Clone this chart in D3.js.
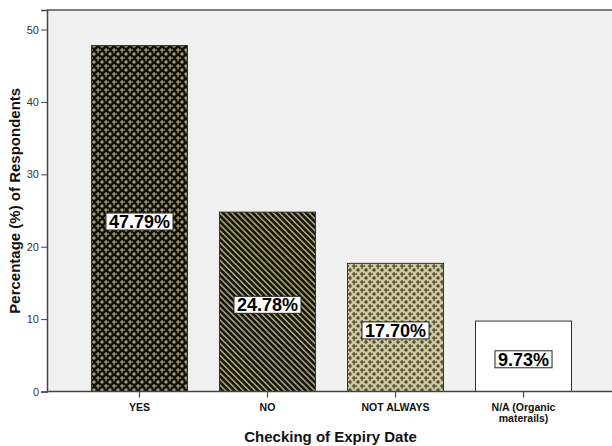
<!DOCTYPE html>
<html>
<head>
<meta charset="utf-8">
<script src="https://cdn.jsdelivr.net/npm/d3@7"></script>
<style>
  html, body { margin: 0; padding: 0; background: #fff; }
  svg { display: block; font-family: "Liberation Sans", Arial, sans-serif; }
</style>
</head>
<body>
<svg id="chart" width="612" height="446"></svg>
<script>
// Survey answers to "Checking of Expiry Date"
const categories = ["YES", "NO", "NOT ALWAYS", "N/A (Organic materails)"];
const tickLines = [["YES"], ["NO"], ["NOT ALWAYS"], ["N/A (Organic", "materails)"]];
const percentages = [47.79, 24.78, 17.70, 9.73];
const fillIds = ["pat-dark-cross", "pat-diag", "pat-light-cross", "plain-white"];
const yTickValues = [0, 10, 20, 30, 40, 50];

const svg = d3.select("#chart");
const W = 612, H = 446;
const plot = { left: 47, top: 10, bottom: 391.5, right: 616 };

const x = d3.scaleBand()
  .domain(categories)
  .range([plot.left, plot.right])
  .paddingInner(0.25)
  .paddingOuter(0.3475);

const y = d3.scaleLinear()
  .domain([0, 52.7])
  .range([plot.bottom, plot.top]);

// ---- fill patterns ----
const defs = svg.append("defs");
const khaki = "#b0aa7e", khakiLight = "#dcd8ac", dark = "#15140f";

function crossPattern(id, bg, fg, hi) {
  const p = defs.append("pattern").attr("id", id)
    .attr("patternUnits", "userSpaceOnUse").attr("width", 8).attr("height", 8);
  p.append("rect").attr("width", 8).attr("height", 8).attr("fill", bg);
  [[2, 2], [6, 6]].forEach(([cx, cy]) => {
    p.append("rect").attr("x", cx - 2).attr("y", cy - 0.5).attr("width", 5).attr("height", 1).attr("fill", fg);
    p.append("rect").attr("x", cx - 0.5).attr("y", cy - 2).attr("width", 1).attr("height", 5).attr("fill", fg);
    p.append("rect").attr("x", cx - 0.5).attr("y", cy - 0.5).attr("width", 1).attr("height", 1).attr("fill", hi);
  });
}
crossPattern("pat-dark-cross", dark, khaki, khakiLight);
crossPattern("pat-light-cross", "#cbc799", "#2a281c", "#5a5640");

const diag = defs.append("pattern").attr("id", "pat-diag")
  .attr("patternUnits", "userSpaceOnUse").attr("width", 4.2).attr("height", 8)
  .attr("patternTransform", "rotate(-45)");
diag.append("rect").attr("width", 4.2).attr("height", 8).attr("fill", dark);
diag.append("rect").attr("x", 0).attr("width", 1.6).attr("height", 8).attr("fill", "#a8a273");

function fillFor(i) {
  return fillIds[i] === "plain-white" ? "#ffffff" : `url(#${fillIds[i]})`;
}

// ---- plot background and frame ----
svg.append("rect")
  .attr("x", plot.left).attr("y", plot.top)
  .attr("width", W - plot.left).attr("height", plot.bottom - plot.top)
  .attr("fill", "#f0f0f0");
svg.append("line")
  .attr("x1", plot.left).attr("x2", W)
  .attr("y1", plot.top).attr("y2", plot.top)
  .attr("stroke", "#555").attr("stroke-width", 1.5);

// ---- bars ----
svg.append("g").selectAll("rect")
  .data(percentages)
  .join("rect")
  .attr("x", (d, i) => x(categories[i]))
  .attr("y", d => y(d))
  .attr("width", x.bandwidth())
  .attr("height", d => y(0) - y(d))
  .attr("fill", (d, i) => fillFor(i))
  .attr("stroke", "#333")
  .attr("stroke-width", 1);

// ---- axes ----
const yAxis = svg.append("g")
  .attr("transform", `translate(${plot.left},0)`)
  .call(d3.axisLeft(y).tickValues(yTickValues).tickSize(6).tickPadding(2).tickFormat(d3.format("d")));
yAxis.select(".domain").attr("stroke", "#444").attr("stroke-width", 1.5);
yAxis.selectAll(".tick line").attr("stroke", "#444");
yAxis.selectAll(".tick text")
  .attr("font-size", 11).attr("fill", "#333")
  .attr("font-family", "'Liberation Sans', Arial, sans-serif");

const xAxis = svg.append("g")
  .attr("transform", `translate(0,${plot.bottom})`)
  .call(d3.axisBottom(x).tickSize(6).tickSizeOuter(0).tickFormat(""));
xAxis.select(".domain").attr("stroke", "#444").attr("stroke-width", 1.5)
  .attr("d", `M${plot.left},0H${W}`);
xAxis.selectAll(".tick line").attr("stroke", "#444").attr("stroke-width", 1.2);

// category names, one text element per line
xAxis.selectAll(".tick").each(function (d, i) {
  const tick = d3.select(this);
  tickLines[i].forEach((line, k) => {
    tick.append("text")
      .attr("x", 0).attr("y", 19 + k * 11.5)
      .attr("text-anchor", "middle")
      .attr("fill", "#111")
      .attr("font-size", 10.5)
      .attr("font-weight", "bold")
      .attr("font-family", "'Liberation Sans', Arial, sans-serif")
      .text(line);
  });
});

// ---- value labels ----
const labels = svg.append("g");
percentages.forEach((v, i) => {
  const cx = x(categories[i]) + x.bandwidth() / 2;
  const cy = (y(v) + y(0)) / 2 + 3;
  const g = labels.append("g");
  const box = g.append("rect");
  const txt = g.append("text")
    .attr("x", cx).attr("y", cy + 6.5)
    .attr("text-anchor", "middle")
    .attr("font-size", 18).attr("font-weight", "bold")
    .attr("fill", "#000")
    .text(v.toFixed(2) + "%");
  const bb = txt.node().getBBox();
  box.attr("x", bb.x - 3).attr("y", cy - 8.5)
    .attr("width", bb.width + 6).attr("height", 17)
    .attr("fill", "#fff").attr("stroke", "#222").attr("stroke-width", 1);
});

// ---- axis titles ----
svg.append("text")
  .attr("x", (plot.left + W) / 2 + 1).attr("y", 442)
  .attr("text-anchor", "middle")
  .attr("font-size", 15).attr("font-weight", "bold").attr("fill", "#111")
  .text("Checking of Expiry Date");

svg.append("text")
  .attr("transform", `translate(20,${(plot.top + plot.bottom) / 2}) rotate(-90)`)
  .attr("text-anchor", "middle")
  .attr("font-size", 15).attr("font-weight", "bold").attr("fill", "#111")
  .text("Percentage (%) of Respondents");
</script>
</body>
</html>
